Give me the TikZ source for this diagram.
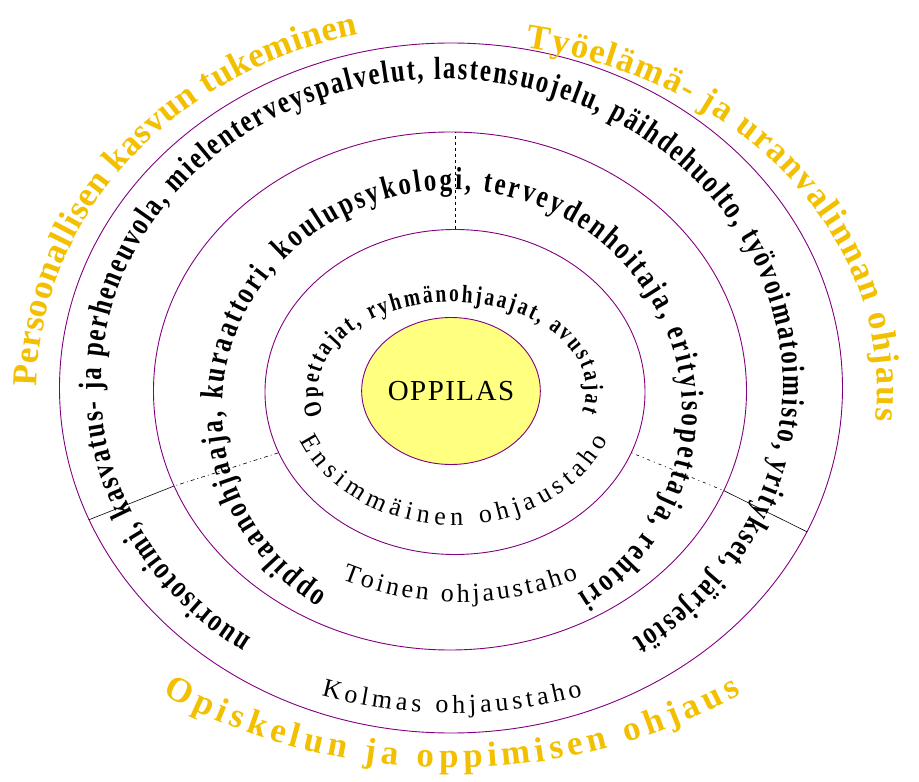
\documentclass[tikz,border=0pt]{standalone}
\usepackage{fontspec}
\setmainfont{Liberation Serif}
\newfontfamily\ringfont[FakeStretch=0.78]{Liberation Serif}
\usetikzlibrary{%
	decorations.text,%
	shapes.geometric,%
}
\tikzset{
	nodes={align=center},
}
\definecolor{cpurple}{RGB}{128, 0, 128}
\definecolor{cgold}{RGB}{242, 192, 0}
\definecolor{cyellow}{RGB}{255, 255, 128}

\begin{document}
\begin{tikzpicture}[x=1pt, y=1pt,%
		ring/.style={draw=cpurple, line width=0.9pt, ellipse, inner sep=0pt},%
		tahotext/.style={decorate, decoration={text along path, text align={fit to path}, text={|\ringfont\bfseries\fontsize{32}{32}\selectfont|#1}}},%
		innertext/.style={decorate, decoration={text along path, text align={fit to path}, text={|\ringfont\bfseries\fontsize{25}{25}\selectfont|#1}}},%
		levelname/.style={decorate, decoration={text along path, text align={fit to path}, text={|\fontsize{26}{26}\selectfont|#1}}},%
		goldtext/.style={decorate, decoration={text along path, text align={fit to path}, text color=cgold, text={|\bfseries\fontsize{35}{35}\selectfont|#1}}}]
	\useasboundingbox (-452,-392) rectangle (467,390);

	\node[ring, minimum width=783pt, minimum height=690pt] (taho3) at (-1,2) {};
	\node[ring, minimum width=593pt, minimum height=518pt] (taho2) at (-2,-1) {};
	\node[ring, minimum width=380pt, minimum height=325pt] (taho1) at (3,-2) {};
	\node[ring, fill=cyellow, minimum width=178pt, minimum height=147pt] (oppilas) at (-1,-1) {\addfontfeature{LetterSpace=5}\fontsize{29}{29}\selectfont OPPILAS};

	% sector borders
	\draw[dashed, line width=0.6pt] (taho1.north) -- (taho1.north |- taho2.north);
	\draw[line width=0.6pt, dash pattern=on 4pt off 3pt on 1pt off 3pt] (taho1.199) -- (taho2.199);
	\draw[line width=0.6pt] (taho2.199) -- (taho3.200);
	\draw[line width=0.6pt, dash pattern=on 1pt off 4pt on 3pt off 4pt] (taho1.341) -- (taho2.340);
	\draw[line width=0.6pt] (taho2.340) -- (taho3.338);

	\path[innertext={Opettajat, ryhmänohjaajat, avustajat}] (196:134pt and 88pt) arc[start angle=196, end angle=-14, x radius=134pt, y radius=88pt];
	\path[levelname={Ensimmäinen ohjaustaho}] ([shift={(2,0)}]202:166pt and 135pt) arc[start angle=202, end angle=338, x radius=166pt, y radius=135pt];

	\path[tahotext={oppilaanohjaaja, kuraattori, koulupsykologi, terveydenhoitaja, erityisopettaja, rehtori}] ([shift={(0,-20)}]237:230pt and 220pt) arc[start angle=237, end angle=-57, x radius=230pt, y radius=220pt];
	\path[levelname={Toinen ohjaustaho}] ([shift={(8,104)}]248:316pt) arc[start angle=248, end angle=292, radius=316pt];

	\path[tahotext={nuorisotoimi, kasvatus- ja perheneuvola, mielenterveyspalvelut, lastensuojelu, päihdehuolto, työvoimatoimisto, yritykset, järjestöt}] ([shift={(-10,5)}]236:341pt and 306pt) arc[start angle=236, end angle=-56, x radius=341pt, y radius=306pt];
	\path[levelname={Kolmas ohjaustaho}] ([shift={(0,182)}]255:505pt) arc[start angle=255, end angle=285, radius=505pt];

	\path[goldtext={Persoonallisen kasvun tukeminen}] (179.5:415pt and 365pt) arc[start angle=179.5, end angle=103, x radius=415pt, y radius=365pt];
	\path[goldtext={Työelämä- ja uranvalinnan ohjaus}] (80:425pt and 348pt) arc[start angle=80, end angle=-5, x radius=425pt, y radius=348pt];
	\path[goldtext={Opiskelun ja oppimisen ohjaus}] ([shift={(0,228)}]241.5:606pt) arc[start angle=241.5, end angle=298.5, radius=606pt];
\end{tikzpicture}
\end{document}
